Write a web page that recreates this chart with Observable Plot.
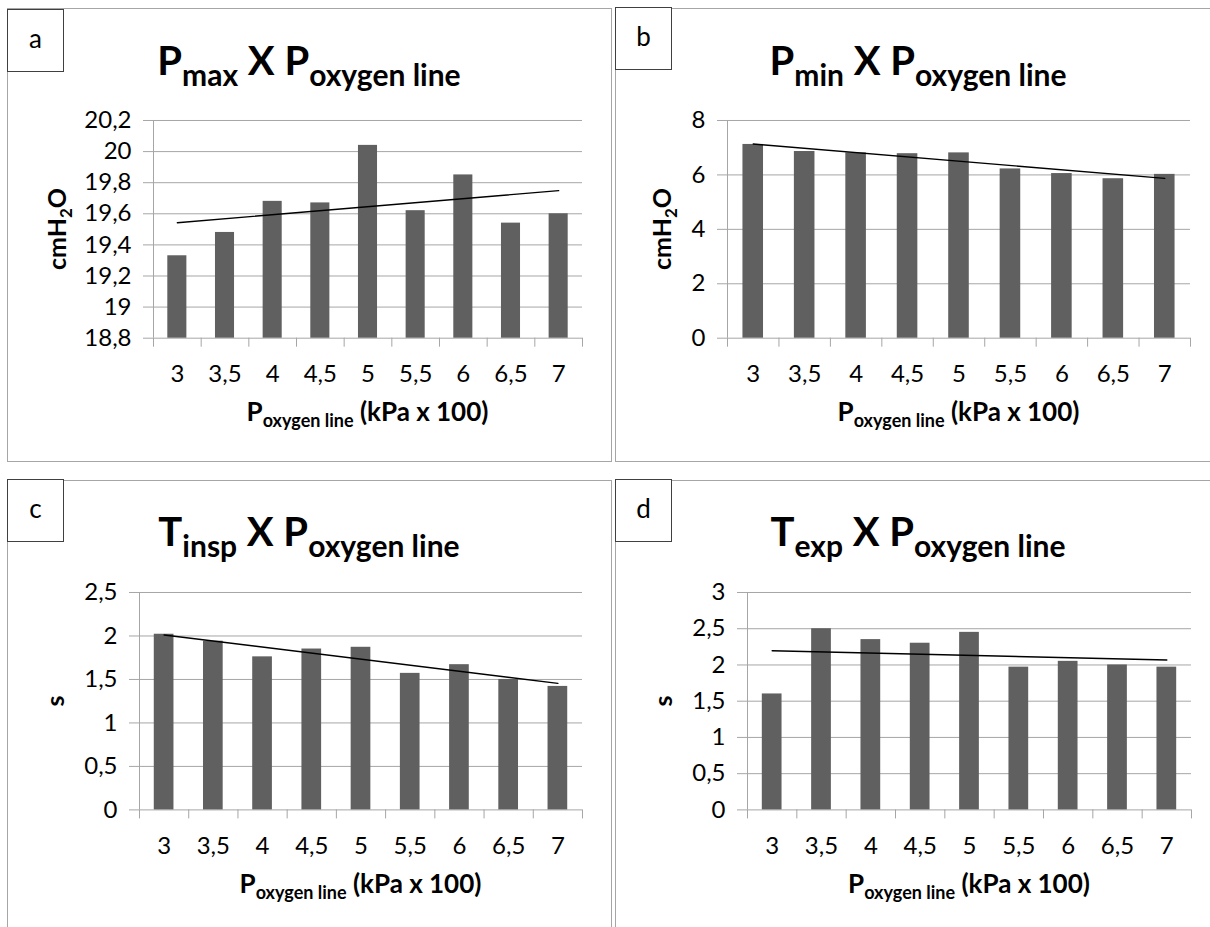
<!DOCTYPE html>
<html><head><meta charset="utf-8">
<script src="https://cdn.jsdelivr.net/npm/d3@7"></script>
<script src="https://cdn.jsdelivr.net/npm/@observablehq/plot@0.6"></script>
<style>
body{margin:0;background:#fff;}
#page{position:relative;width:1210px;height:927px;overflow:hidden;background:#fff;font-family:Lato,sans-serif;}
.panel{position:absolute;border:1px solid #a6a6a6;box-sizing:border-box;}
.lbl{position:absolute;border:1px solid #404040;background:#fff;box-sizing:border-box;}
#overlay{position:absolute;left:0;top:0;pointer-events:none;}
</style></head><body><div id="page"></div>
<script>
// ---- data ----
const xCats = [3, 3.5, 4, 4.5, 5, 5.5, 6, 6.5, 7];
const xLabels = ["3", "3,5", "4", "4,5", "5", "5,5", "6", "6,5", "7"];

const pmax = [19.33, 19.48, 19.68, 19.67, 20.04, 19.62, 19.85, 19.54, 19.60];
const pmin = [7.12, 6.86, 6.81, 6.78, 6.81, 6.22, 6.05, 5.86, 6.02];
const tinsp = [2.02, 1.94, 1.76, 1.85, 1.87, 1.57, 1.67, 1.50, 1.42];
const texp = [1.60, 2.50, 2.35, 2.30, 2.45, 1.97, 2.05, 2.00, 1.97];

const pmaxTicks = [18.8, 19, 19.2, 19.4, 19.6, 19.8, 20, 20.2];
const pmaxTickLabels = ["18,8", "19", "19,2", "19,4", "19,6", "19,8", "20", "20,2"];
const pminTicks = [0, 2, 4, 6, 8];
const pminTickLabels = ["0", "2", "4", "6", "8"];
const tinspTicks = [0, 0.5, 1, 1.5, 2, 2.5];
const tinspTickLabels = ["0", "0,5", "1", "1,5", "2", "2,5"];
const texpTicks = [0, 0.5, 1, 1.5, 2, 2.5, 3];
const texpTickLabels = ["0", "0,5", "1", "1,5", "2", "2,5", "3"];

const panelLetters = ["a", "b", "c", "d"];
const titleMain = ["P", "P", "T", "T"];
const titleSub = ["max", "min", "insp", "exp"];
const yTitles = ["cmH2O", "cmH2O", "s", "s"];

// ---- layout ----
const GRID = "#a6a6a6", BAR = "#606060";
const page = document.getElementById("page");
const panels = [
  {values: pmax, ticks: pmaxTicks, labels: pmaxTickLabels, L: 153, R: 582, T: 120, B: 337.7, box: [7, 8, 605, 454], lb: [7, 9], yt: [66, 229], xt: [367.5, 421], tt: [309, 75]},
  {values: pmin, ticks: pminTicks, labels: pminTickLabels, L: 727, R: 1190, T: 120, B: 337.7, box: [615, 8, 620, 454], lb: [615, 7], yt: [671, 229], xt: [958.5, 421], tt: [918, 75]},
  {values: tinsp, ticks: tinspTicks, labels: tinspTickLabels, L: 139, R: 582, T: 592.3, B: 809.7, box: [7, 480, 605, 500], lb: [7, 479], yt: [64, 701], xt: [360.5, 893], tt: [309, 546]},
  {values: texp, ticks: texpTicks, labels: texpTickLabels, L: 747, R: 1191, T: 592.3, B: 809.7, box: [615, 480, 620, 500], lb: [615, 479], yt: [672, 701], xt: [969, 893], tt: [918, 546]}
];

const half = (xCats[1] - xCats[0]) / 2;
const bounds = xCats.map(c => c - half).concat([xCats[xCats.length - 1] + half]);

panels.forEach((p, i) => {
  const box = document.createElement("div");
  box.className = "panel";
  Object.assign(box.style, {left: p.box[0] + "px", top: p.box[1] + "px", width: p.box[2] + "px", height: p.box[3] + "px"});
  page.appendChild(box);
});

panels.forEach((p, i) => {
  const data = xCats.map((c, j) => ({p: c, v: p.values[j]}));
  const W = p.R - p.L, H = p.B - p.T;
  const mL = 90, mR = 12, mT = 20, mB = 60;
  const ins = (W / xCats.length) * 0.3;
  const y0 = p.ticks[0];
  const chart = Plot.plot({
    width: W + mL + mR, height: H + mT + mB,
    marginLeft: mL, marginRight: mR, marginTop: mT, marginBottom: mB,
    x: {domain: [bounds[0], bounds[bounds.length - 1]]},
    y: {domain: [p.ticks[0], p.ticks[p.ticks.length - 1]]},
    style: {fontFamily: "Lato, sans-serif", fontSize: "24px", color: "#000", background: "transparent", overflow: "visible"},
    marks: [
      Plot.gridY(p.ticks, {stroke: GRID, strokeOpacity: 1}),
      Plot.ruleX([bounds[0]], {stroke: GRID}),
      Plot.axisY({ticks: p.ticks, tickSize: 10, tickPadding: 12, stroke: GRID, fill: "#000", tickFormat: d => p.labels[p.ticks.indexOf(d)], label: null}),
      Plot.axisX({ticks: bounds, tickSize: 9, stroke: GRID, tickFormat: () => "", label: null}),
      Plot.axisX({ticks: xCats, tickSize: 0, tickPadding: 27, fill: "#000", tickFormat: d => xLabels[xCats.indexOf(d)], label: null}),
      Plot.rectY(data, {x1: d => d.p - half, x2: d => d.p + half, y1: y0, y2: "v", fill: BAR, insetLeft: ins, insetRight: ins}),
      Plot.linearRegressionY(data, {x: "p", y: "v", stroke: "#000", strokeWidth: 1.4, ci: 0})
    ]
  });
  Object.assign(chart.style, {position: "absolute", left: (p.L - mL) + "px", top: (p.T - mT) + "px"});
  page.appendChild(chart);

  const lb = document.createElement("div");
  lb.className = "lbl";
  Object.assign(lb.style, {left: p.lb[0] + "px", top: p.lb[1] + "px", width: "57px", height: "63px"});
  page.appendChild(lb);
});

// ---- text overlay ----
const NS = "http://www.w3.org/2000/svg";
const ov = document.createElementNS(NS, "svg");
ov.setAttribute("id", "overlay");
ov.setAttribute("width", 1210); ov.setAttribute("height", 927);
page.appendChild(ov);

function txt(x, y, parts, opts = {}) {
  const t = document.createElementNS(NS, "text");
  t.setAttribute("text-anchor", opts.anchor || "middle");
  t.setAttribute("font-family", "Lato, sans-serif");
  t.setAttribute("font-weight", opts.bold ? "bold" : "normal");
  if (opts.rotate) t.setAttribute("transform", `translate(${x},${y}) rotate(-90)`);
  else { t.setAttribute("x", x); t.setAttribute("y", y); }
  parts.forEach(([s, size, dy]) => {
    const ts = document.createElementNS(NS, "tspan");
    ts.textContent = s;
    ts.setAttribute("font-size", size);
    if (dy) ts.setAttribute("dy", dy);
    t.appendChild(ts);
  });
  ov.appendChild(t);
}

panels.forEach((p, i) => {
  // panel letter
  txt(p.lb[0] + 28.5, p.lb[1] + 38.5, [[panelLetters[i], 26, 0]]);
  // title
  txt(p.tt[0], p.tt[1], [[titleMain[i], 40, 0], [titleSub[i], 30, 11], [" X P", 40, -11], ["oxygen line", 30, 11]], {bold: true});
  // x axis title
  txt(p.xt[0], p.xt[1], [["P", 26, 0], ["oxygen line", 18, 6], [" (kPa x 100)", 26, -6]], {bold: true});
  // y axis title
  const yt = yTitles[i];
  if (yt === "cmH2O") txt(p.yt[0], p.yt[1], [["cmH", 25, 0], ["2", 17, 6], ["O", 25, -6]], {bold: true, rotate: true});
  else txt(p.yt[0], p.yt[1], [[yt, 25, 0]], {bold: true, rotate: true});
});
</script></body></html>
